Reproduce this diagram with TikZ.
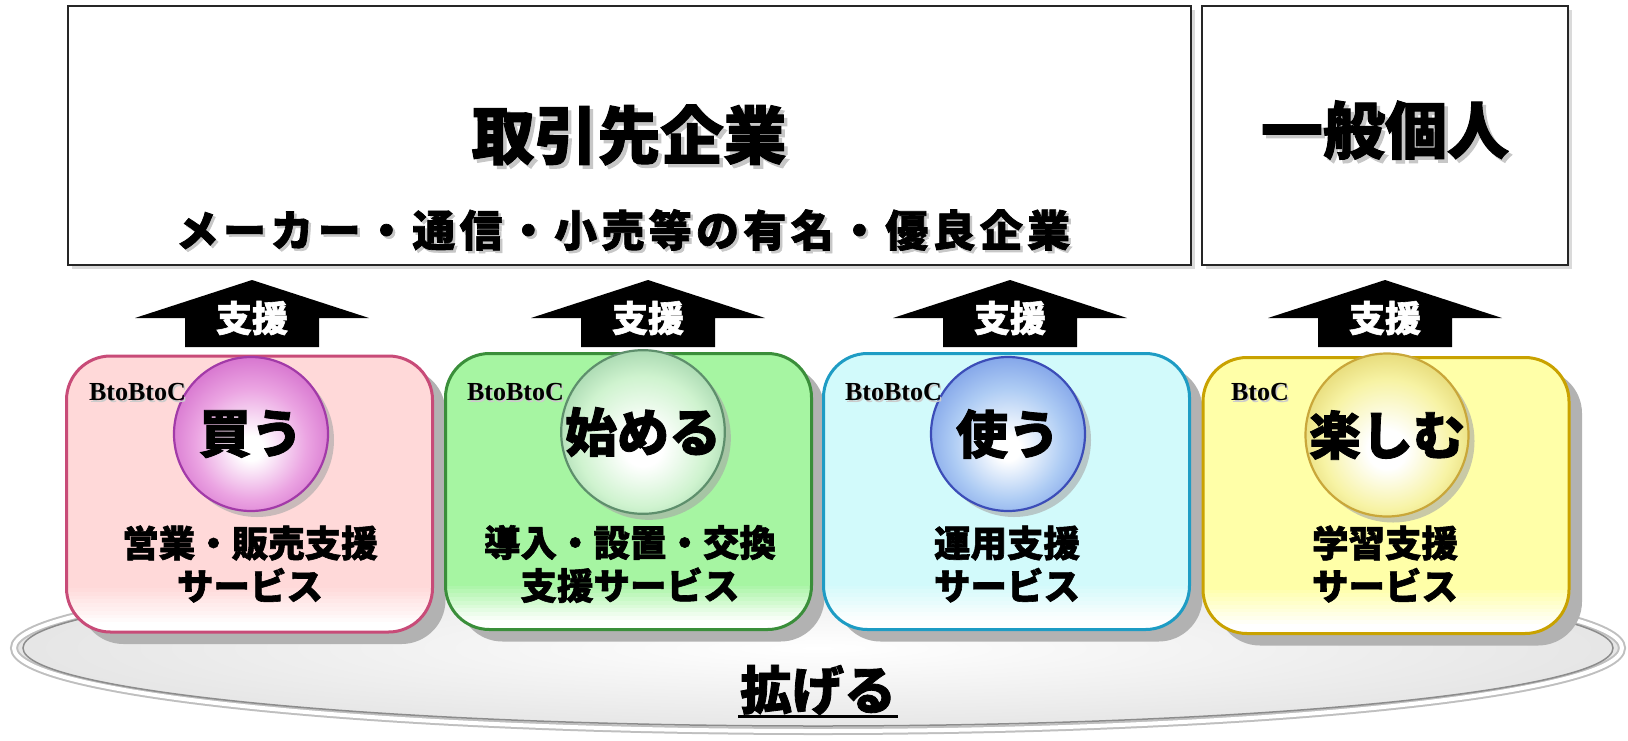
\documentclass[tikz,border=0pt]{standalone}
\usepackage{fontspec}
\newfontfamily\jp{Noto Sans CJK JP}[BoldFeatures={FakeBold=1.6}]
\newfontfamily\tms{Liberation Serif}
\usetikzlibrary{shadows,shapes.geometric}

\definecolor{pinkF}{HTML}{FFD9D9}
\definecolor{pinkL}{HTML}{C84B78}
\definecolor{greenF}{HTML}{A6F5A2}
\definecolor{greenL}{HTML}{3A8E3A}
\definecolor{cyanF}{HTML}{D2FAFB}
\definecolor{cyanL}{HTML}{1E9CC4}
\definecolor{yelF}{HTML}{FFFFA8}
\definecolor{yelL}{HTML}{C9A200}
\definecolor{pinkB}{HTML}{EBA4E2}
\definecolor{pinkBd}{HTML}{D878D0}
\definecolor{pinkBl}{HTML}{A23AA8}
\definecolor{greenB}{HTML}{CFF3CF}
\definecolor{greenBd}{HTML}{A8D8B0}
\definecolor{greenBl}{HTML}{5E8F6C}
\definecolor{blueB}{HTML}{AECCF4}
\definecolor{blueBd}{HTML}{86A8EA}
\definecolor{blueBl}{HTML}{3C4DB8}
\definecolor{yelB}{HTML}{F7F3A4}
\definecolor{yelBd}{HTML}{E6DA78}
\definecolor{yelBl}{HTML}{C9A73A}

\pgfdeclareradialshading{pinkball}{\pgfpoint{0bp}{-5bp}}{color(0bp)=(white); color(4bp)=(white); color(18bp)=(pinkB); color(27bp)=(pinkBd); color(50bp)=(pinkBd)}
\pgfdeclareradialshading{greenball}{\pgfpoint{0bp}{-5bp}}{color(0bp)=(white); color(6bp)=(white); color(20bp)=(greenB); color(28bp)=(greenBd); color(50bp)=(greenBd)}
\pgfdeclareradialshading{blueball}{\pgfpoint{0bp}{-5bp}}{color(0bp)=(white); color(4bp)=(white); color(18bp)=(blueB); color(27bp)=(blueBd); color(50bp)=(blueBd)}
\pgfdeclareradialshading{yelball}{\pgfpoint{0bp}{-5bp}}{color(0bp)=(white); color(6bp)=(white); color(20bp)=(yelB); color(28bp)=(yelBd); color(50bp)=(yelBd)}

\begin{document}
\begin{tikzpicture}[x=1pt,y=-1pt,
  every node/.style={inner sep=0pt,outer sep=0pt},
  jpf/.style={font={\jp\bfseries\fontsize{#1}{#1}\selectfont}},
  tshadow/.style={text=black!22},
  topbox/.style={rectangle,draw=black!85,line width=2.5pt,fill=white,
    drop shadow={shadow xshift=4pt,shadow yshift=-4pt,fill=black!18,opacity=.8}},
  svcbox/.style={rectangle,rounded corners=44pt,minimum width=366pt,minimum height=276pt,
    line width=3pt,fill=#1F,draw=#1L,
    drop shadow={shadow xshift=13pt,shadow yshift=-12pt,fill=black!30,opacity=1},
    path picture={
      \foreach \k in {1,...,10}{
        \fill[sharp corners,white,opacity=\k/10]
          ([yshift={6pt+(10-\k)*3.8pt}]path picture bounding box.south west) rectangle
          ([yshift={6pt+(11-\k)*3.8pt}]path picture bounding box.south east);}
      \fill[sharp corners,white] (path picture bounding box.south west) rectangle
        ([yshift=6.5pt]path picture bounding box.south east);}},
  ball/.style={circle,minimum size=154pt,line width=2.2pt,shading=#1ball,draw=#1Bl,
    drop shadow={shadow xshift=6pt,shadow yshift=-6pt,fill=black!35,opacity=.6},
    jpf=52},
  svctext/.style={align=center,font={\jp\bfseries\fontsize{36.5}{43}\selectfont}},
  btxt/.style={anchor=base west,font={\tms\bfseries\fontsize{26}{26}\selectfont}},
]
\useasboundingbox (0,0) rectangle (1628,740);

% platform ellipse
\node[ellipse,minimum width=1608pt,minimum height=166pt,
  inner color=white,outer color=black!10,
  draw=black!25,double=white,double distance=4pt,line width=2pt] (base) at (818,648) {};
\node[ellipse,minimum width=1590pt,minimum height=156pt,draw=black!45,line width=1.5pt] (baseinner) at (818,648) {};
\node[jpf=52] (kg) at (818,690) {拡げる};
\draw[line width=3pt] ([xshift=-2pt]kg.west |- 0,716) -- ([xshift=2pt]kg.east |- 0,716);

% top boxes
\node[topbox,minimum width=1123pt,minimum height=259pt] (corp) at (629.5,135.5) {};
\node[topbox,minimum width=366pt,minimum height=259pt] (indiv) at (1385,135.5) {};

\node[jpf=63,tshadow] (t1s) at (632.5,138.5) {取引先企業};
\node[jpf=63] (t1) at (629,135) {取引先企業};
\node[jpf=43,tshadow] (t2s) at (625.5,232.5) {\addfontfeature{LetterSpace=10}メーカー・通信・小売等の有名・優良企業};
\node[jpf=43] (t2) at (623,230) {\addfontfeature{LetterSpace=10}メーカー・通信・小売等の有名・優良企業};
\node[jpf=62,tshadow] (t3s) at (1388.5,133.5) {一般個人};
\node[jpf=62] (t3) at (1385,130) {一般個人};

% support arrows
\foreach \cx/\i in {252/1,648/2,1010/3,1385/4}{
  \fill[black] ({\cx-117},318) -- (\cx,280) -- ({\cx+117},318) -- ({\cx+67},318)
    -- ({\cx+67},347) -- ({\cx-67},347) -- ({\cx-67},318) -- cycle;
  \node[jpf=36,text=white] (sien\i) at (\cx,318) {支援};
}

% service boxes
\node[svcbox=pink]  (b1) at (249.5,494) {};
\node[svcbox=green] (b2) at (628.5,491.5) {};
\node[svcbox=cyan]  (b3) at (1006.5,491.5) {};
\node[svcbox=yel]   (b4) at (1386,495.5) {};

% balls
\node[ball=pink]  (c1) at (251,434) {買う};
\node[ball=green] (c2) at (643,432) {始める};
\node[ball=blue]  (c3) at (1008,434) {使う};
\node[ball=yel]   (c4) at (1387,435) {楽しむ};

% type labels
\node[btxt,text=black!20] (l1s) at (90.5,402.5) {BtoBtoC};
\node[btxt] (l1) at (89,400) {BtoBtoC};
\node[btxt,text=black!20] (l2s) at (468.5,402.5) {BtoBtoC};
\node[btxt] (l2) at (467,400) {BtoBtoC};
\node[btxt,text=black!20] (l3s) at (846.5,402.5) {BtoBtoC};
\node[btxt] (l3) at (845,400) {BtoBtoC};
\node[btxt,text=black!20] (l4s) at (1232.5,402.5) {BtoC};
\node[btxt] (l4) at (1231,400) {BtoC};

% service texts
\node[svctext] (s1) at (250,564) {営業・販売支援\\サービス};
\node[svctext] (s2) at (630,564) {導入・設置・交換\\支援サービス};
\node[svctext] (s3) at (1007,564) {運用支援\\サービス};
\node[svctext] (s4) at (1385,564) {学習支援\\サービス};
\end{tikzpicture}
\end{document}
